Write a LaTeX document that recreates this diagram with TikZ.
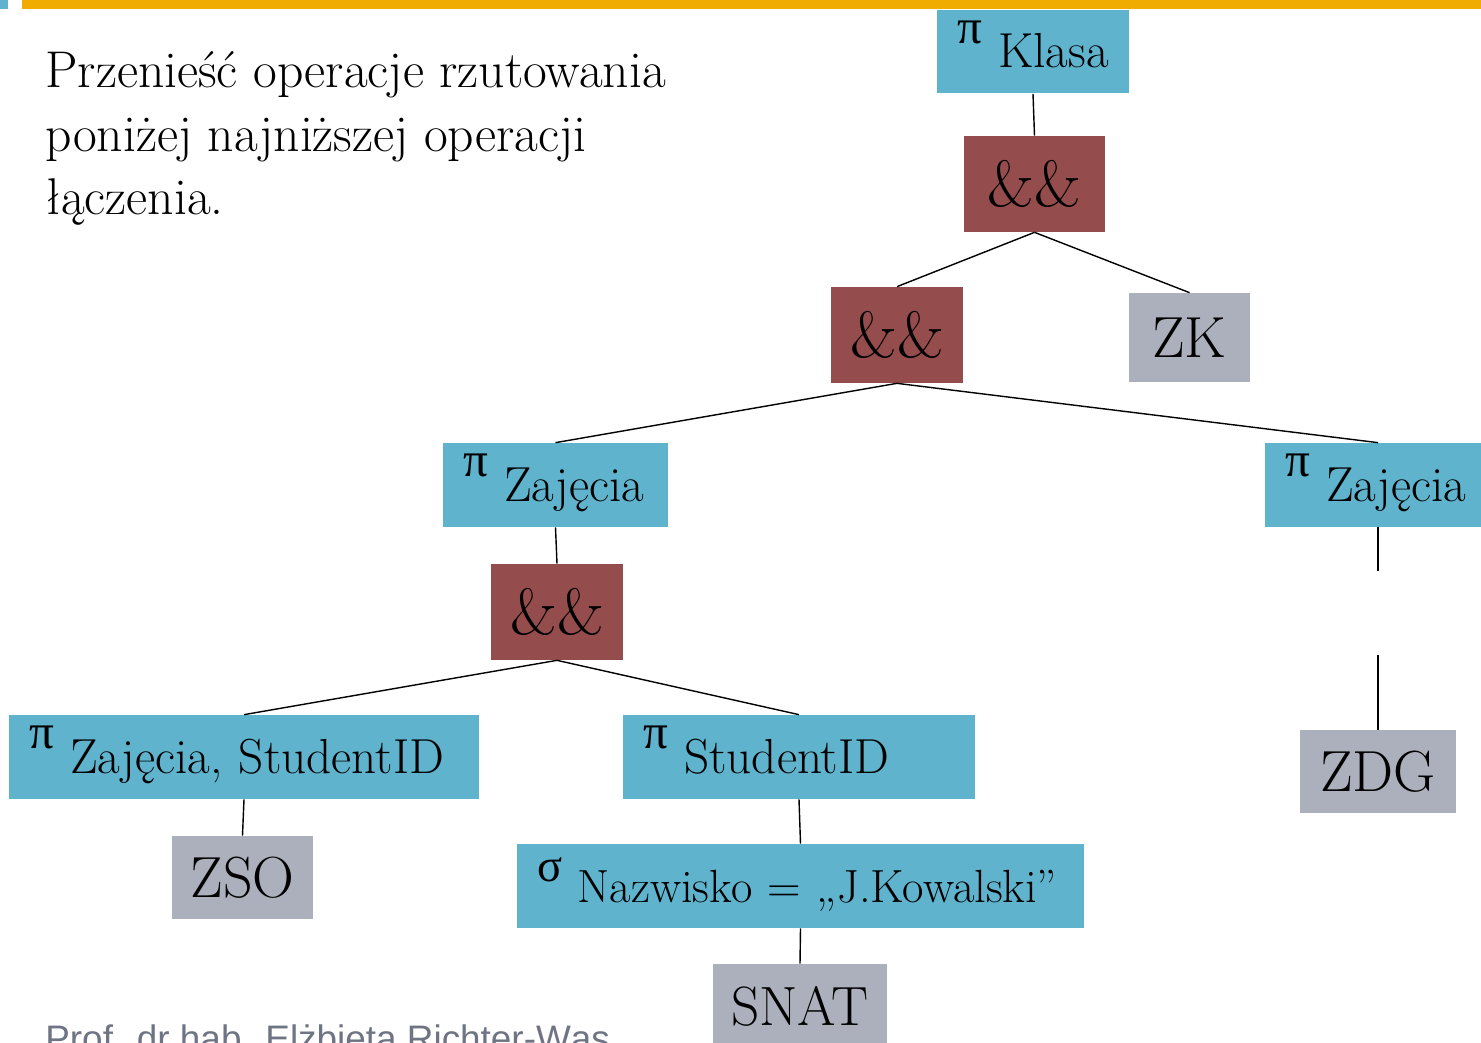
\documentclass[tikz,border=0pt]{standalone}
\usepackage{fontspec}
\newfontfamily\grkfont{Liberation Serif}
\newfontfamily\footfont{Liberation Sans}
\usepackage{xcolor}
\usepackage{tikz}
\definecolor{blu}{RGB}{95,179,205}
\definecolor{brw}{RGB}{148,76,76}
\definecolor{gry}{RGB}{172,176,188}
\definecolor{orng}{RGB}{240,172,0}
\definecolor{foot}{RGB}{110,116,132}
\newcommand{\rzut}{\raisebox{0.5em}{\grkfont π}\ }
\newcommand{\selekcja}{\raisebox{0.45em}{\grkfont σ}\ }
\tikzset{
  blubox/.style={fill=blu, inner xsep=0.4cm, inner ysep=0pt, align=left,
    minimum height=1.68cm, text height=0.9cm, text depth=0.24cm,
    font=\fontsize{28}{32}\selectfont},
  joinbox/.style={fill=brw, minimum width=2.64cm, minimum height=1.92cm,
    font=\fontsize{37}{42}\selectfont},
  relbox/.style={fill=gry, minimum height=1.66cm,
    font=\fontsize{33}{38}\selectfont},
  edge/.style={draw, line width=0.8pt}
}

\begin{document}
\begin{tikzpicture}[x=0.02cm, y=-0.02cm]
    \useasboundingbox (0,0) rectangle (1481,1043);
    \fill[orng] (22,0) rectangle (1481,9);
    \fill[blu] (0,0) rectangle (8,9);
    \node[anchor=base west, align=left, inner sep=0pt,
        font=\fontsize{29.4}{36.3}\selectfont] (zadanie) at (45,215)
        {Przenieść operacje rzutowania\\poniżej najniższej operacji\\łączenia.};
    \node[blubox, text width=3.04cm] (klasa) at (1033,51.5) {\rzut Klasa};
    \node[joinbox, minimum width=2.82cm] (j1) at (1034.5,184) {\&\&};
    \node[joinbox] (j2) at (897,335) {\&\&};
    \node[relbox, minimum width=2.42cm, minimum height=1.78cm] (zk) at (1189.5,337.5) {ZK};
    \node[blubox, text width=3.7cm] (zajL) at (555.5,485) {\rzut Zajęcia};
    \node[blubox, text width=3.72cm] (zajR) at (1378,485) {\rzut Zajęcia};
    \node[joinbox] (j3) at (557,612) {\&\&};
    \node[blubox, text width=8.6cm] (zs) at (244,757) {\rzut Zajęcia, StudentID};
    \node[blubox, text width=6.24cm] (sid) at (799,757) {\rzut StudentID};
    \node[relbox, minimum width=2.82cm] (zso) at (242.5,877.5) {ZSO};
    \node[blubox, text width=10.54cm, font=\fontsize{26.5}{30}\selectfont] (sig) at (800.5,886)
        {\selekcja Nazwisko = „J.Kowalski”};
    \node[relbox, minimum width=3.48cm, minimum height=1.68cm,
        font=\fontsize{31.5}{36}\selectfont] (snat) at (800,1006) {SNAT};
    \node[relbox, minimum width=3.12cm] (zdg) at (1378,771.5) {ZDG};
    \node[anchor=base west, inner sep=0pt, text=foot,
        font=\footfont\fontsize{21}{25}\selectfont] (autor) at (45,1051)
        {Prof. dr hab. Elżbieta Richter-Wąs};
    \coordinate (przerwaA) at (1378,571);
    \coordinate (przerwaB) at (1378,655);
    \draw[edge] (klasa.south) -- (j1.north);
    \draw[edge] (j1.south) -- (j2.north);
    \draw[edge] (j1.south) -- (zk.north);
    \draw[edge] (j2.south) -- (zajL.north);
    \draw[edge] (j2.south) -- (zajR.north);
    \draw[edge] (zajL.south) -- (j3.north);
    \draw[edge] (j3.south) -- (zs.north);
    \draw[edge] (j3.south) -- (sid.north);
    \draw[edge] (zs.south) -- (zso.north);
    \draw[edge] (sid.south) -- (sig.north);
    \draw[edge] (sig.south) -- (snat.north);
    \draw[edge] (zajR.south) -- (przerwaA);
    \draw[edge] (przerwaB) -- (zdg.north);
\end{tikzpicture}
\end{document}
